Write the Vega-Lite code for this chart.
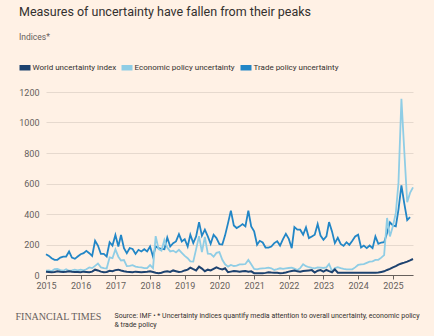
{
  "$schema": "https://vega.github.io/schema/vega-lite/v6.json",
  "autosize": "none",
  "width": 367,
  "height": 183,
  "padding": {"left": 46, "top": 92, "right": 21, "bottom": 61},
  "background": "#fff1e5",
  "title": {
    "text": "Measures of uncertainty have fallen from their peaks",
    "subtitle": "Indices*",
    "anchor": "start",
    "frame": "group",
    "dx": -27,
    "offset": 18,
    "font": "Roboto",
    "fontSize": 12.5,
    "fontWeight": "normal",
    "color": "#33302e",
    "subtitleFont": "Roboto",
    "subtitleFontSize": 8.5,
    "subtitleColor": "#66605c",
    "subtitlePadding": 14
  },
  "encoding": {
    "x": {
      "field": "d",
      "type": "temporal",
      "scale": {"domain": ["2015-01-01", "2025-08-01"]},
      "axis": {
        "format": "%Y",
        "tickCount": {"interval": "year", "step": 1},
        "grid": false,
        "domain": true,
        "domainColor": "#66605c",
        "ticks": true,
        "tickColor": "#66605c",
        "tickSize": 4,
        "labelFlush": false,
        "labelFont": "Roboto",
        "labelFontSize": 9,
        "labelColor": "#66605c",
        "labelPadding": 2,
        "title": ["Source: IMF • * Uncertainty indices quantify media attention to overall uncertainty, economic policy", "& trade policy"],
        "titleX": 68,
        "titleY": 42,
        "titleAlign": "left",
        "titleAnchor": "start",
        "titleBaseline": "alphabetic",
        "titleFont": "Roboto",
        "titleFontSize": 7,
        "titleFontWeight": "normal",
        "titleColor": "#33302e",
        "titleLineHeight": 9
      }
    },
    "y": {
      "field": "v",
      "type": "quantitative",
      "scale": {"domain": [0, 1200]},
      "axis": {
        "values": [0, 200, 400, 600, 800, 1000, 1200],
        "format": "d",
        "domain": false,
        "ticks": false,
        "grid": true,
        "gridColor": "#e6d9ce",
        "labelFont": "Roboto",
        "labelFontSize": 9,
        "labelColor": "#66605c",
        "labelPadding": 7,
        "title": "FINANCIAL TIMES",
        "titleAngle": 0,
        "titleX": -31,
        "titleY": 227,
        "titleAlign": "left",
        "titleBaseline": "alphabetic",
        "titleFont": "Liberation Serif",
        "titleFontSize": 10,
        "titleFontWeight": "normal",
        "titleColor": "#66605c"
      }
    },
    "color": {
      "type": "nominal",
      "scale": {
        "domain": ["World uncertainty index", "Economic policy uncertainty", "Trade policy uncertainty"],
        "range": ["#1d426f", "#8fcde5", "#2286c6"]
      },
      "legend": {
        "orient": "none",
        "legendX": -29.5,
        "legendY": -33,
        "direction": "horizontal",
        "title": null,
        "symbolType": "M-1,0H1",
        "symbolSize": 121,
        "symbolStrokeWidth": 5.5,
        "labelFont": "Roboto",
        "labelFontSize": 8,
        "labelColor": "#33302e",
        "labelOffset": -1,
        "columnPadding": -6
      }
    }
  },
  "layer": [
    {
      "data": {"values": [
        {"d":"2015-01","v":136},{"d":"2015-02","v":125},{"d":"2015-03","v":110},{"d":"2015-04","v":99},{"d":"2015-05","v":100},{"d":"2015-06","v":114},{"d":"2015-07","v":120},{"d":"2015-08","v":121},{"d":"2015-09","v":154},{"d":"2015-10","v":114},{"d":"2015-11","v":106},{"d":"2015-12","v":121},
        {"d":"2016-01","v":136},{"d":"2016-02","v":143},{"d":"2016-03","v":158},{"d":"2016-04","v":143},{"d":"2016-05","v":125},{"d":"2016-06","v":224},{"d":"2016-07","v":193},{"d":"2016-08","v":138},{"d":"2016-09","v":138},{"d":"2016-10","v":121},{"d":"2016-11","v":215},{"d":"2016-12","v":193},
        {"d":"2017-01","v":262},{"d":"2017-02","v":187},{"d":"2017-03","v":262},{"d":"2017-04","v":176},{"d":"2017-05","v":143},{"d":"2017-06","v":176},{"d":"2017-07","v":171},{"d":"2017-08","v":138},{"d":"2017-09","v":165},{"d":"2017-10","v":154},{"d":"2017-11","v":169},{"d":"2017-12","v":154},
        {"d":"2018-01","v":187},{"d":"2018-02","v":121},{"d":"2018-03","v":187},{"d":"2018-04","v":176},{"d":"2018-05","v":171},{"d":"2018-06","v":169},{"d":"2018-07","v":246},{"d":"2018-08","v":187},{"d":"2018-09","v":209},{"d":"2018-10","v":220},{"d":"2018-11","v":268},{"d":"2018-12","v":220},
        {"d":"2019-01","v":235},{"d":"2019-02","v":187},{"d":"2019-03","v":264},{"d":"2019-04","v":209},{"d":"2019-05","v":253},{"d":"2019-06","v":347},{"d":"2019-07","v":257},{"d":"2019-08","v":297},{"d":"2019-09","v":253},{"d":"2019-10","v":204},{"d":"2019-11","v":264},{"d":"2019-12","v":242},
        {"d":"2020-01","v":202},{"d":"2020-02","v":200},{"d":"2020-03","v":260},{"d":"2020-04","v":340},{"d":"2020-05","v":422},{"d":"2020-06","v":325},{"d":"2020-07","v":308},{"d":"2020-08","v":319},{"d":"2020-09","v":334},{"d":"2020-10","v":319},{"d":"2020-11","v":422},{"d":"2020-12","v":319},
        {"d":"2021-01","v":286},{"d":"2021-02","v":198},{"d":"2021-03","v":224},{"d":"2021-04","v":213},{"d":"2021-05","v":180},{"d":"2021-06","v":180},{"d":"2021-07","v":187},{"d":"2021-08","v":209},{"d":"2021-09","v":222},{"d":"2021-10","v":193},{"d":"2021-11","v":235},{"d":"2021-12","v":270},
        {"d":"2022-01","v":237},{"d":"2022-02","v":176},{"d":"2022-03","v":314},{"d":"2022-04","v":297},{"d":"2022-05","v":297},{"d":"2022-06","v":264},{"d":"2022-07","v":312},{"d":"2022-08","v":242},{"d":"2022-09","v":253},{"d":"2022-10","v":264},{"d":"2022-11","v":334},{"d":"2022-12","v":259},
        {"d":"2023-01","v":231},{"d":"2023-02","v":253},{"d":"2023-03","v":347},{"d":"2023-04","v":286},{"d":"2023-05","v":209},{"d":"2023-06","v":244},{"d":"2023-07","v":204},{"d":"2023-08","v":191},{"d":"2023-09","v":215},{"d":"2023-10","v":198},{"d":"2023-11","v":224},{"d":"2023-12","v":253},
        {"d":"2024-01","v":264},{"d":"2024-02","v":180},{"d":"2024-03","v":193},{"d":"2024-04","v":176},{"d":"2024-05","v":193},{"d":"2024-06","v":176},{"d":"2024-07","v":253},{"d":"2024-08","v":204},{"d":"2024-09","v":213},{"d":"2024-10","v":215},{"d":"2024-11","v":275},{"d":"2024-12","v":345},
        {"d":"2025-01","v":325},{"d":"2025-02","v":319},{"d":"2025-03","v":429},{"d":"2025-04","v":587},{"d":"2025-05","v":470},{"d":"2025-06","v":360},{"d":"2025-07","v":380}
      ]},
      "mark": {"type": "line", "strokeWidth": 1.8},
      "encoding": {"color": {"datum": "Trade policy uncertainty"}}
    },
    {
      "data": {"values": [
        {"d":"2015-01","v":28},{"d":"2015-02","v":30},{"d":"2015-03","v":25},{"d":"2015-04","v":38},{"d":"2015-05","v":40},{"d":"2015-06","v":32},{"d":"2015-07","v":28},{"d":"2015-08","v":38},{"d":"2015-09","v":28},{"d":"2015-10","v":30},{"d":"2015-11","v":35},{"d":"2015-12","v":30},
        {"d":"2016-01","v":35},{"d":"2016-02","v":30},{"d":"2016-03","v":38},{"d":"2016-04","v":50},{"d":"2016-05","v":45},{"d":"2016-06","v":60},{"d":"2016-07","v":75},{"d":"2016-08","v":50},{"d":"2016-09","v":45},{"d":"2016-10","v":42},{"d":"2016-11","v":115},{"d":"2016-12","v":110},
        {"d":"2017-01","v":168},{"d":"2017-02","v":120},{"d":"2017-03","v":95},{"d":"2017-04","v":98},{"d":"2017-05","v":58},{"d":"2017-06","v":60},{"d":"2017-07","v":65},{"d":"2017-08","v":55},{"d":"2017-09","v":52},{"d":"2017-10","v":50},{"d":"2017-11","v":45},{"d":"2017-12","v":45},
        {"d":"2018-01","v":65},{"d":"2018-02","v":45},{"d":"2018-03","v":255},{"d":"2018-04","v":170},{"d":"2018-05","v":160},{"d":"2018-06","v":230},{"d":"2018-07","v":180},{"d":"2018-08","v":155},{"d":"2018-09","v":160},{"d":"2018-10","v":148},{"d":"2018-11","v":165},{"d":"2018-12","v":145},
        {"d":"2019-01","v":125},{"d":"2019-02","v":110},{"d":"2019-03","v":90},{"d":"2019-04","v":88},{"d":"2019-05","v":170},{"d":"2019-06","v":255},{"d":"2019-07","v":150},{"d":"2019-08","v":250},{"d":"2019-09","v":140},{"d":"2019-10","v":138},{"d":"2019-11","v":120},{"d":"2019-12","v":145},
        {"d":"2020-01","v":150},{"d":"2020-02","v":100},{"d":"2020-03","v":70},{"d":"2020-04","v":55},{"d":"2020-05","v":66},{"d":"2020-06","v":59},{"d":"2020-07","v":62},{"d":"2020-08","v":70},{"d":"2020-09","v":70},{"d":"2020-10","v":72},{"d":"2020-11","v":99},{"d":"2020-12","v":70},
        {"d":"2021-01","v":40},{"d":"2021-02","v":37},{"d":"2021-03","v":42},{"d":"2021-04","v":44},{"d":"2021-05","v":45},{"d":"2021-06","v":48},{"d":"2021-07","v":44},{"d":"2021-08","v":33},{"d":"2021-09","v":38},{"d":"2021-10","v":44},{"d":"2021-11","v":40},{"d":"2021-12","v":44},
        {"d":"2022-01","v":46},{"d":"2022-02","v":48},{"d":"2022-03","v":42},{"d":"2022-04","v":33},{"d":"2022-05","v":45},{"d":"2022-06","v":70},{"d":"2022-07","v":58},{"d":"2022-08","v":51},{"d":"2022-09","v":47},{"d":"2022-10","v":44},{"d":"2022-11","v":50},{"d":"2022-12","v":48},
        {"d":"2023-01","v":46},{"d":"2023-02","v":50},{"d":"2023-03","v":72},{"d":"2023-04","v":26},{"d":"2023-05","v":45},{"d":"2023-06","v":51},{"d":"2023-07","v":45},{"d":"2023-08","v":40},{"d":"2023-09","v":37},{"d":"2023-10","v":37},{"d":"2023-11","v":37},{"d":"2023-12","v":50},
        {"d":"2024-01","v":66},{"d":"2024-02","v":70},{"d":"2024-03","v":72},{"d":"2024-04","v":80},{"d":"2024-05","v":88},{"d":"2024-06","v":90},{"d":"2024-07","v":99},{"d":"2024-08","v":100},{"d":"2024-09","v":114},{"d":"2024-10","v":130},{"d":"2024-11","v":374},{"d":"2024-12","v":253},
        {"d":"2025-01","v":319},{"d":"2025-02","v":407},{"d":"2025-03","v":604},{"d":"2025-04","v":1155},{"d":"2025-05","v":815},{"d":"2025-06","v":477},{"d":"2025-07","v":538},{"d":"2025-08","v":575}
      ]},
      "mark": {"type": "line", "strokeWidth": 1.8},
      "encoding": {"color": {"datum": "Economic policy uncertainty"}}
    },
    {
      "data": {"values": [
        {"d":"2015-01","v":22},{"d":"2015-02","v":20},{"d":"2015-03","v":18},{"d":"2015-04","v":20},{"d":"2015-05","v":25},{"d":"2015-06","v":22},{"d":"2015-07","v":20},{"d":"2015-08","v":22},{"d":"2015-09","v":25},{"d":"2015-10","v":22},{"d":"2015-11","v":20},{"d":"2015-12","v":20},
        {"d":"2016-01","v":18},{"d":"2016-02","v":22},{"d":"2016-03","v":20},{"d":"2016-04","v":18},{"d":"2016-05","v":22},{"d":"2016-06","v":35},{"d":"2016-07","v":30},{"d":"2016-08","v":22},{"d":"2016-09","v":18},{"d":"2016-10","v":20},{"d":"2016-11","v":28},{"d":"2016-12","v":25},
        {"d":"2017-01","v":32},{"d":"2017-02","v":35},{"d":"2017-03","v":30},{"d":"2017-04","v":25},{"d":"2017-05","v":22},{"d":"2017-06","v":20},{"d":"2017-07","v":18},{"d":"2017-08","v":22},{"d":"2017-09","v":20},{"d":"2017-10","v":18},{"d":"2017-11","v":20},{"d":"2017-12","v":22},
        {"d":"2018-01","v":25},{"d":"2018-02","v":20},{"d":"2018-03","v":15},{"d":"2018-04","v":12},{"d":"2018-05","v":15},{"d":"2018-06","v":22},{"d":"2018-07","v":25},{"d":"2018-08","v":20},{"d":"2018-09","v":30},{"d":"2018-10","v":25},{"d":"2018-11","v":20},{"d":"2018-12","v":22},
        {"d":"2019-01","v":30},{"d":"2019-02","v":35},{"d":"2019-03","v":48},{"d":"2019-04","v":38},{"d":"2019-05","v":30},{"d":"2019-06","v":55},{"d":"2019-07","v":42},{"d":"2019-08","v":25},{"d":"2019-09","v":35},{"d":"2019-10","v":30},{"d":"2019-11","v":40},{"d":"2019-12","v":50},
        {"d":"2020-01","v":42},{"d":"2020-02","v":37},{"d":"2020-03","v":44},{"d":"2020-04","v":18},{"d":"2020-05","v":22},{"d":"2020-06","v":26},{"d":"2020-07","v":24},{"d":"2020-08","v":22},{"d":"2020-09","v":24},{"d":"2020-10","v":26},{"d":"2020-11","v":22},{"d":"2020-12","v":24},
        {"d":"2021-01","v":12},{"d":"2021-02","v":11},{"d":"2021-03","v":12},{"d":"2021-04","v":11},{"d":"2021-05","v":14},{"d":"2021-06","v":18},{"d":"2021-07","v":16},{"d":"2021-08","v":15},{"d":"2021-09","v":14},{"d":"2021-10","v":11},{"d":"2021-11","v":13},{"d":"2021-12","v":16},
        {"d":"2022-01","v":22},{"d":"2022-02","v":26},{"d":"2022-03","v":30},{"d":"2022-04","v":24},{"d":"2022-05","v":22},{"d":"2022-06","v":26},{"d":"2022-07","v":28},{"d":"2022-08","v":30},{"d":"2022-09","v":32},{"d":"2022-10","v":16},{"d":"2022-11","v":28},{"d":"2022-12","v":32},
        {"d":"2023-01","v":22},{"d":"2023-02","v":33},{"d":"2023-03","v":25},{"d":"2023-04","v":18},{"d":"2023-05","v":37},{"d":"2023-06","v":15},{"d":"2023-07","v":14},{"d":"2023-08","v":15},{"d":"2023-09","v":14},{"d":"2023-10","v":15},{"d":"2023-11","v":15},{"d":"2023-12","v":14},
        {"d":"2024-01","v":14},{"d":"2024-02","v":14},{"d":"2024-03","v":14},{"d":"2024-04","v":15},{"d":"2024-05","v":15},{"d":"2024-06","v":14},{"d":"2024-07","v":15},{"d":"2024-08","v":16},{"d":"2024-09","v":20},{"d":"2024-10","v":24},{"d":"2024-11","v":33},{"d":"2024-12","v":40},
        {"d":"2025-01","v":50},{"d":"2025-02","v":58},{"d":"2025-03","v":68},{"d":"2025-04","v":75},{"d":"2025-05","v":81},{"d":"2025-06","v":88},{"d":"2025-07","v":96},{"d":"2025-08","v":105}
      ]},
      "mark": {"type": "line", "strokeWidth": 2},
      "encoding": {"color": {"datum": "World uncertainty index"}}
    }
  ],
  "config": {
    "view": {"stroke": null}
  }
}
